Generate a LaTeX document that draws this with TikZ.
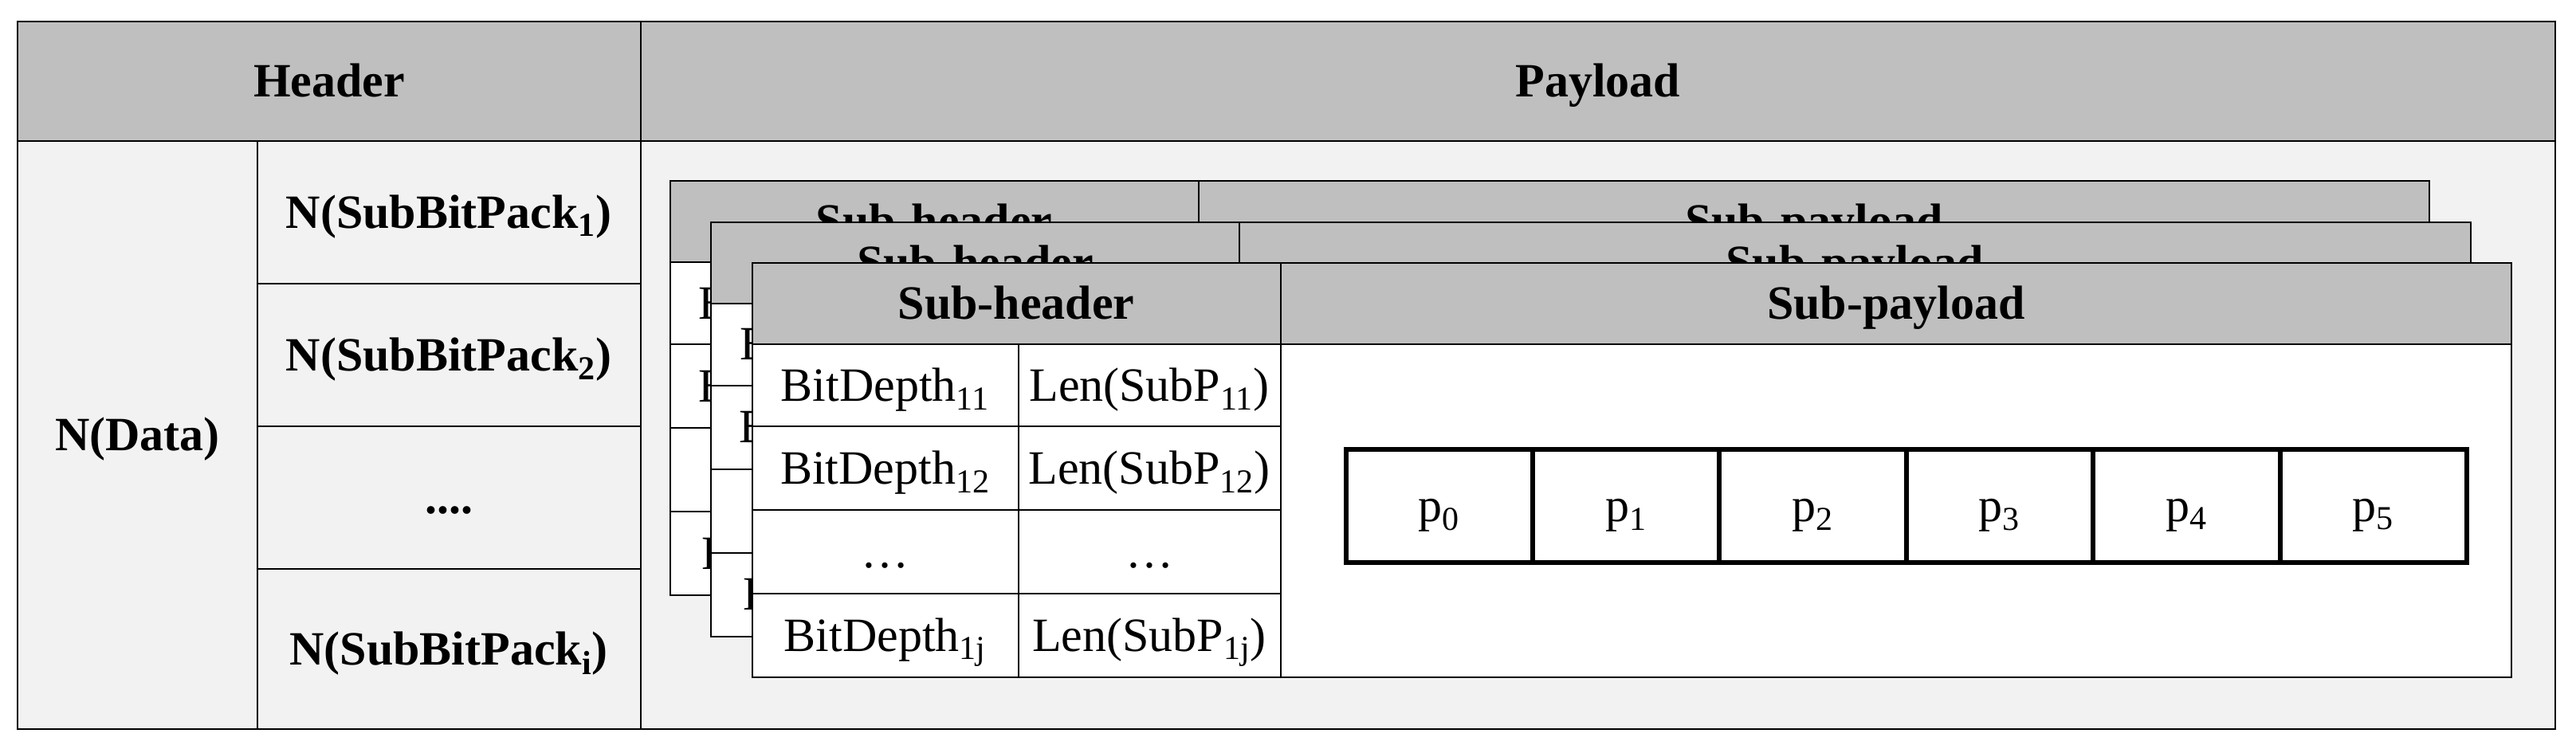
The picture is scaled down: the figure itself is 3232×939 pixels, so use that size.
\documentclass[tikz,border=0pt]{standalone}
\usepackage{fontspec}
\setmainfont{Liberation Serif}
\definecolor{hdrgray}{HTML}{BFBFBF}
\definecolor{bodygray}{HTML}{F2F2F2}
\newcommand\cellbox[7]{%
  \pgfmathsetmacro\cbxw{((#4)-(#2))*0.5}%
  \pgfmathsetmacro\cbxh{((#5)-(#3))*0.5}%
  \node[#6, minimum width=\cbxw pt, minimum height=\cbxh pt, anchor=north west] (#1) at (#2,#3) {#7};}
% #1 prefix, #2 dx, #3 dy, #4 = 1 for the front table (all texts), 0 for the hidden back tables
\newcommand\subtab[4]{%
  \cellbox{#1sh}{943.5-#2}{330.3-#3}{1606.5-#2}{432.3-#3}{hcell}{Sub-header}
  \cellbox{#1sp}{1606.5-#2}{330.3-#3}{3151-#2}{432.3-#3}{hcell}{Sub-payload}
  \cellbox{#1body}{1606.5-#2}{432.3-#3}{3151-#2}{850-#3}{wcell}{}
  \cellbox{#1ba}{943.5-#2}{432.3-#3}{1277.6-#2}{535.3-#3}{wcell}{BitDepth\textsubscript{11}}
  \cellbox{#1bb}{943.5-#2}{535.3-#3}{1277.6-#2}{640.3-#3}{wcell}{BitDepth\textsubscript{12}}
  \cellbox{#1bd}{943.5-#2}{745.3-#3}{1277.6-#2}{850-#3}{wcell}{BitDepth\textsubscript{1j}}
  \ifnum#4=1
  \cellbox{#1la}{1277.6-#2}{432.3-#3}{1606.5-#2}{535.3-#3}{wcell}{Len(SubP\textsubscript{11})}
  \cellbox{#1lb}{1277.6-#2}{535.3-#3}{1606.5-#2}{640.3-#3}{wcell}{Len(SubP\textsubscript{12})}
  \cellbox{#1bc}{943.5-#2}{640.3-#3}{1277.6-#2}{745.3-#3}{wcell}{…}
  \cellbox{#1lc}{1277.6-#2}{640.3-#3}{1606.5-#2}{745.3-#3}{wcell}{…}
  \cellbox{#1ld}{1277.6-#2}{745.3-#3}{1606.5-#2}{850-#3}{wcell}{Len(SubP\textsubscript{1j})}
  \else
  \cellbox{#1bc}{943.5-#2}{640.3-#3}{1277.6-#2}{745.3-#3}{wcell}{}
  \fi
}
\begin{document}
\begin{tikzpicture}[x=0.5pt,y=-0.5pt,
  every node/.style={inner sep=0pt, outer sep=0pt, text height=19.6pt, text depth=0pt},
  hcell/.style={draw=black, line width=1pt, fill=hdrgray, font=\fontsize{30}{36}\selectfont\bfseries},
  lcell/.style={draw=black, line width=1pt, fill=bodygray, font=\fontsize{30}{36}\selectfont\bfseries},
  wcell/.style={draw=black, line width=1pt, fill=white, font=\fontsize{30}{36}\selectfont},
  pcell/.style={draw=black, line width=3pt, fill=white, font=\fontsize{30}{36}\selectfont}]
\useasboundingbox (0,0) rectangle (3232,939);
% main table
\cellbox{hdr}{22.4}{27}{803.7}{177}{hcell}{Header}
\cellbox{pay}{803.7}{27}{3206}{177}{hcell}{Payload}
\cellbox{ndata}{22.4}{177}{322.6}{915}{lcell}{N(Data)}
\cellbox{sba}{322.6}{177}{803.7}{356.3}{lcell}{N(SubBitPack\textsubscript{1})}
\cellbox{sbb}{322.6}{356.3}{803.7}{535.3}{lcell}{N(SubBitPack\textsubscript{2})}
\cellbox{sbc}{322.6}{535.3}{803.7}{714.3}{lcell}{....}
\cellbox{sbd}{322.6}{714.3}{803.7}{915}{lcell}{N(SubBitPack\textsubscript{i})}
\cellbox{pbody}{803.7}{177}{3206}{915}{lcell}{}
% stacked sub-tables
\subtab{ta}{103}{103}{0}
\subtab{tb}{51.5}{51.5}{0}
\subtab{tc}{0}{0}{1}
% payload cells
\foreach \i in {0,...,5}{
  \cellbox{p\i}{1688.5+234.4*\i}{564}{1688.5+234.4*(\i+1)}{705.7}{pcell}{p\textsubscript{\i}}
}
\end{tikzpicture}
\end{document}
